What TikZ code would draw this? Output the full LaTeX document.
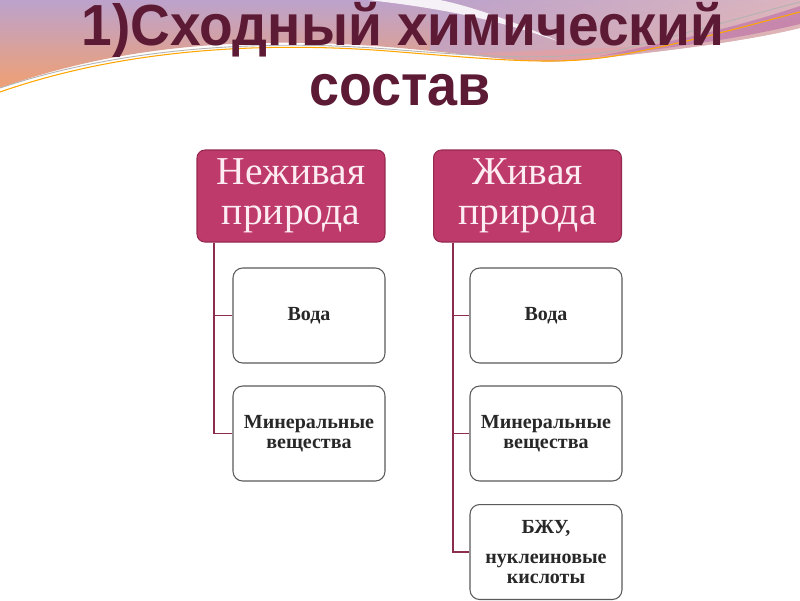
\documentclass[tikz,border=0pt]{standalone}
\usepackage{fontspec}
\setmainfont{Liberation Serif}
\newfontfamily\titlefont{Liberation Sans}
\usetikzlibrary{positioning}
\definecolor{titlered}{RGB}{92,26,52}
\definecolor{headfill}{RGB}{190,58,106}
\definecolor{headline}{RGB}{150,40,80}
\definecolor{headtext}{RGB}{253,236,242}
\definecolor{linkcol}{RGB}{140,45,80}
\definecolor{boxline}{RGB}{90,90,90}
\definecolor{boxtext}{RGB}{40,40,40}
\definecolor{bgpurple}{RGB}{188,162,204}
\definecolor{bgorange}{RGB}{240,160,115}
\definecolor{bgmauve}{RGB}{196,128,172}
\definecolor{bgpeach}{RGB}{232,190,186}
\definecolor{bgsalmon}{RGB}{226,160,165}

\begin{document}
\begin{tikzpicture}[x=0.02cm, y=-0.02cm,
	head/.style={draw=headline, line width=0.6pt, fill=headfill, rounded corners=4.5pt,
		minimum width=3.76cm, minimum height=1.84cm, align=center, text=headtext,
		font=\fontsize{22.5}{22.7}\selectfont},
	item/.style={draw=boxline, line width=0.6pt, fill=white, rounded corners=5.5pt,
		minimum width=3.04cm, minimum height=1.9cm, align=center, text=boxtext,
		font=\fontsize{11.4}{11.4}\selectfont\bfseries},
	link/.style={draw=linkcol, line width=0.9pt},
	titletext/.style={text=titlered, font=\titlefont\fontsize{33}{38}\selectfont\bfseries}]
	\useasboundingbox (0,0) rectangle (800,600);
	\fill[white] (0,0) rectangle (800,600);
	\shade[top color=bgpurple, bottom color=bgorange] (0,0) -- (800,0) -- (800,28)
		.. controls (750,40) and (680,50) .. (580,60)
		.. controls (530,65) and (480,55) .. (400,48)
		.. controls (250,35) and (120,45) .. (0,88) -- cycle;
	\shade[left color=bgpurple, right color=bgpeach, opacity=0.7] (430,0) -- (800,0) -- (800,28)
		.. controls (750,40) and (680,50) .. (580,60)
		.. controls (530,65) and (480,55) .. (430,50) -- cycle;
	\fill[bgsalmon, opacity=0.8] (470,54) .. controls (520,60) and (550,64) .. (590,59)
		.. controls (620,55) and (640,50) .. (660,46)
		.. controls (600,48) and (540,50) .. (470,54) -- cycle;
	\fill[bgmauve, opacity=0.85] (600,56) .. controls (690,46) and (750,36) .. (800,24)
		-- (800,6) .. controls (740,26) and (680,40) .. (600,56) -- cycle;
	\fill[white, opacity=0.85] (368,0) .. controls (440,8) and (500,20) .. (560,42)
		.. controls (500,15) and (460,4) .. (440,0) -- cycle;
	\draw[orange!70!yellow, line width=0.6pt] (0,92) .. controls (120,50) and (260,40) .. (400,52)
		.. controls (500,60) and (560,66) .. (620,55) .. controls (700,40) and (760,22) .. (800,12);
	\draw[gray!60, line width=0.5pt] (0,88) .. controls (120,48) and (260,38) .. (400,50)
		.. controls (500,58) and (560,60) .. (620,50) .. controls (700,30) and (760,12) .. (800,2);
	\node[titletext, anchor=base] (title1) at (403,45) {\scalebox{0.95}[1]{1)Сходный химический}};
	\node[titletext, anchor=base] (title2) at (400,105) {\scalebox{0.93}[1]{состав}};
	\node[head] (nz) at (291,196) {Неживая\\природа};
	\node[head] (zh) at (527.5,196) {Живая\\природа};
	\node[item] (nz1) at (309,315.5) {Вода};
	\node[item] (nz2) at (309,433.5) {Минеральные\\вещества};
	\node[item] (zh1) at (546,315.5) {Вода};
	\node[item] (zh2) at (546,433.5) {Минеральные\\вещества};
	\node[item] (zh3) at (546,552) {БЖУ,\\[6pt]нуклеиновые\\кислоты};
	\draw[link] ([xshift=0.35cm]nz.south west) |- (nz1.west);
	\draw[link] ([xshift=0.35cm]nz.south west) |- (nz2.west);
	\draw[link] ([xshift=0.4cm]zh.south west) |- (zh1.west);
	\draw[link] ([xshift=0.4cm]zh.south west) |- (zh2.west);
	\draw[link] ([xshift=0.4cm]zh.south west) |- (zh3.west);
\end{tikzpicture}
\end{document}
